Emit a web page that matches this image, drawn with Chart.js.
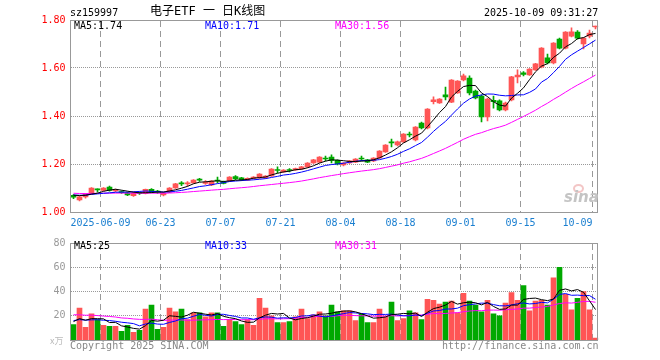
<!DOCTYPE html>
<html><head><meta charset="utf-8">
<script src="https://cdn.jsdelivr.net/npm/chart.js@4.4.1/dist/chart.umd.min.js"></script>
<style>
html,body{margin:0;padding:0;background:#fff;width:660px;height:360px;overflow:hidden;}
#wrap{position:relative;width:660px;height:360px;background:#fff;}
canvas{position:absolute;left:0;z-index:1;}
.t{position:absolute;font-family:"DejaVu Sans Mono",monospace;font-size:10px;line-height:12px;white-space:pre;z-index:2;}
.vdash{position:absolute;width:1px;z-index:0;background:repeating-linear-gradient(to bottom,#999999 0px,#999999 6px,rgba(255,255,255,0) 6px,rgba(255,255,255,0) 10px);}
</style></head><body>
<div id="wrap">
<canvas id="k" width="660" height="232" style="top:0px"></canvas>
<canvas id="v" width="660" height="128" style="top:232px"></canvas>
<div class="t" style="left:70px;top:7px;color:#000">sz159997</div>
<div class="t" style="left:150px;top:4px;font-size:12px;line-height:14px;font-family:'DejaVu Sans Mono','Noto Sans CJK SC',monospace;color:#000">电子ETF 一 日K线图</div>
<div class="t" style="left:484px;top:7px;color:#000">2025-10-09 09:31:27</div>
<div class="t" style="left:74px;top:20px;color:#000">MA5:1.74</div>
<div class="t" style="left:205px;top:20px;color:#0000ff">MA10:1.71</div>
<div class="t" style="left:335px;top:20px;color:#ff00ff">MA30:1.56</div>
<div class="t" style="left:74px;top:240px;color:#000">MA5:25</div>
<div class="t" style="left:205px;top:240px;color:#0000ff">MA10:33</div>
<div class="t" style="left:335px;top:240px;color:#ff00ff">MA30:31</div>
<div class="t" style="left:50px;top:335px;color:#bbb;font-family:'Noto Sans CJK SC',sans-serif;font-size:9px">x万</div>
<div class="t" style="left:70px;top:340px;color:#888">Copyright 2025 SINA.COM</div>
<div class="t" style="left:442px;top:340px;color:#888">http://finance.sina.com.cn</div>
<div style="position:absolute;z-index:2;left:573px;top:184px;width:11px;height:9px;border-radius:50%;border:2px solid #f3c6c6;box-sizing:border-box;"></div>
<div class="t" style="left:564px;top:189px;font-family:'DejaVu Sans',sans-serif;font-size:15px;line-height:16px;font-weight:bold;font-style:italic;color:#c4c4c4">sina</div>
</div>
<script>
// ---- data ----
const dates = ['05-30',
 '06-03','06-04','06-05','06-06','06-09','06-10','06-11','06-12','06-13',
 '06-16','06-17','06-18','06-19','06-20','06-23','06-24','06-25','06-26','06-27','06-30',
 '07-01','07-02','07-03','07-04','07-07','07-08','07-09','07-10','07-11',
 '07-14','07-15','07-16','07-17','07-18','07-21','07-22','07-23','07-24','07-25',
 '07-28','07-29','07-30','07-31','08-01',
 '08-04','08-05','08-06','08-07','08-08','08-11','08-12','08-13','08-14','08-15',
 '08-18','08-19','08-20','08-21','08-22','08-25','08-26','08-27','08-28','08-29',
 '09-01','09-02','09-03','09-04','09-05','09-08','09-09','09-10','09-11','09-12',
 '09-15','09-16','09-17','09-18','09-19','09-22','09-23','09-24','09-25','09-26',
 '09-29','09-30','10-09'];
const tickLabels = {'06-09':'2025-06-09','06-23':'06-23','07-07':'07-07','07-21':'07-21','08-04':'08-04','08-18':'08-18','09-01':'09-01','09-15':'09-15','10-09':'10-09'};
const priceLevels = [1.2, 1.4, 1.6];
const volumeLevels = [20, 40, 60];

const open = [1.069,1.050,1.063,1.075,1.094,1.090,1.104,1.088,1.085,1.080,
 1.068,1.079,1.077,1.094,1.085,1.071,1.083,1.100,1.121,1.117,
 1.121,1.135,1.119,1.113,1.131,1.127,1.129,1.148,1.142,1.133,
 1.140,1.142,1.142,1.150,1.177,1.167,1.177,1.175,1.179,1.188,
 1.204,1.208,1.225,1.229,1.215,1.196,1.204,1.208,1.225,1.217,
 1.213,1.225,1.250,1.292,1.279,1.292,1.325,1.300,1.371,1.350,
 1.460,1.454,1.488,1.458,1.496,1.550,1.558,1.504,1.483,1.396,
 1.465,1.463,1.425,1.467,1.563,1.580,1.571,1.592,1.604,1.642,
 1.621,1.721,1.683,1.733,1.750,1.700,1.733,1.771];
const high = [1.073,1.065,1.077,1.102,1.097,1.102,1.108,1.096,1.088,1.083,
 1.083,1.083,1.096,1.098,1.090,1.081,1.102,1.119,1.127,1.127,
 1.135,1.140,1.131,1.131,1.146,1.129,1.148,1.152,1.144,1.142,
 1.148,1.160,1.152,1.181,1.188,1.177,1.181,1.183,1.190,1.206,
 1.219,1.231,1.233,1.238,1.217,1.206,1.215,1.223,1.233,1.219,
 1.227,1.256,1.281,1.304,1.296,1.327,1.333,1.356,1.375,1.431,
 1.480,1.473,1.521,1.552,1.548,1.575,1.567,1.508,1.488,1.475,
 1.483,1.467,1.458,1.565,1.592,1.585,1.598,1.619,1.685,1.658,
 1.706,1.725,1.752,1.767,1.756,1.727,1.758,1.775];
const low = [1.056,1.046,1.058,1.073,1.083,1.088,1.087,1.085,1.077,1.068,
 1.065,1.073,1.075,1.081,1.077,1.067,1.081,1.098,1.110,1.108,
 1.119,1.127,1.115,1.110,1.121,1.117,1.127,1.135,1.131,1.131,
 1.138,1.140,1.140,1.148,1.163,1.165,1.167,1.173,1.177,1.185,
 1.202,1.206,1.213,1.204,1.196,1.192,1.202,1.206,1.213,1.206,
 1.210,1.223,1.248,1.271,1.275,1.290,1.313,1.296,1.346,1.346,
 1.450,1.452,1.467,1.456,1.494,1.546,1.488,1.471,1.375,1.379,
 1.433,1.421,1.421,1.463,1.538,1.567,1.569,1.590,1.600,1.617,
 1.617,1.679,1.679,1.729,1.720,1.679,1.725,1.763];
const close = [1.062,1.063,1.075,1.100,1.092,1.100,1.090,1.092,1.081,1.071,
 1.079,1.077,1.094,1.083,1.083,1.079,1.100,1.117,1.117,1.121,
 1.133,1.133,1.125,1.129,1.129,1.119,1.146,1.138,1.135,1.140,
 1.146,1.158,1.150,1.179,1.173,1.175,1.173,1.181,1.188,1.204,
 1.217,1.229,1.221,1.215,1.200,1.204,1.213,1.221,1.221,1.208,
 1.225,1.254,1.279,1.288,1.292,1.325,1.321,1.354,1.350,1.429,
 1.467,1.471,1.479,1.550,1.546,1.567,1.496,1.475,1.396,1.471,
 1.460,1.425,1.454,1.563,1.571,1.573,1.596,1.617,1.683,1.621,
 1.704,1.683,1.750,1.751,1.724,1.725,1.746,1.775];
const volume = [12.8,26.4,10.4,21.6,16.8,12.0,11.2,11.2,7.2,12.0,
 6.4,8.0,25.6,28.8,8.8,10.4,26.4,23.2,25.6,16.8,
 22.4,22.4,19.2,22.4,22.4,11.2,16.8,15.2,12.8,16.8,
 12.0,34.4,26.4,20.0,14.4,14.4,15.2,19.2,25.6,17.6,
 20.8,23.2,20.0,28.8,23.2,24.0,24.0,16.0,21.3,14.4,
 14.4,25.6,19.2,31.2,16.0,17.6,24.0,22.4,16.8,33.6,
 32.8,29.6,31.2,32.0,22.4,38.4,32.0,28.8,23.2,32.8,
 21.6,20.0,30.4,39.2,32.8,44.8,24.0,32.0,32.8,28.8,
 51.2,60.0,37.6,24.8,34.4,40.0,24.8,1.6];
// sessions before the window (estimated from where the MA lines start)
const closeBefore = [1.088,1.081,1.079,1.085,1.090,1.086,1.080,1.077,1.082,1.087,
 1.084,1.079,1.083,1.088,1.081,1.078,1.080,1.076,1.074,1.072,
 1.075,1.070,1.068,1.073,1.074,1.071,1.069,1.074,1.074];
const volumeBefore = [26,22,19,28,24,21,25,30,20,23,18,27,22,24,26,21,19,25,23,21,
 18,15,19,16,16,14,17,15,17];

const RED = '#ff5555', GREEN = '#00a800';
const MONO = '"DejaVu Sans Mono", monospace';

function movingAvg(series, before, n) {
  const all = before.concat(series);
  return series.map((_, i) => {
    const end = before.length + i;
    let s = 0;
    for (let k = end - n + 1; k <= end; k++) s += all[k];
    return s / n;
  });
}
const colors = close.map((c, i) => c >= open[i] ? RED : GREEN);

// grid edge (left side of a day's slot)
function slotEdge(chart, i) {
  const a = chart.chartArea, xs = chart.scales.x;
  const slot = a.width / dates.length;
  return Math.round(xs.getPixelForValue(i) - slot / 2 - 0.5);
}

// dotted horizontal grid + dashed vertical grid, placed through the chart's scales
const gridLines = {
  id: 'gridLines',
  beforeDatasetsDraw(chart, args, opts) {
    const ctx = chart.ctx, a = chart.chartArea, ys = chart.scales.y;
    ctx.save();
    const top = Math.ceil(a.top) + 1, bottom = Math.floor(a.bottom);
    ctx.fillStyle = '#999999';
    ctx.strokeStyle = '#999999';
    ctx.lineWidth = 1;
    dates.forEach((d, i) => {
      if (!tickLabels[d]) return;
      const px = slotEdge(chart, i);
      ctx.beginPath();
      for (let yy = top; yy < bottom; yy += 10) {
        ctx.moveTo(px + 0.5, yy);
        ctx.lineTo(px + 0.5, Math.min(yy + 6, bottom));
      }
      ctx.stroke();
    });
    const left = Math.floor(a.left) + 1, right = Math.floor(a.right) - 1;
    (opts.levels || []).forEach(v => {
      const py = Math.round(ys.getPixelForValue(v) - 0.5);
      for (let xx = left; xx < right; xx += 2) ctx.fillRect(xx, py, 1, 1);
    });
    ctx.restore();
  }
};

const frame = {
  id: 'frame',
  afterDraw(chart) {
    const {ctx, chartArea: a} = chart;
    ctx.save();
    ctx.strokeStyle = '#999';
    ctx.lineWidth = 1;
    const l = Math.floor(a.left) + 0.5, r = Math.floor(a.right) - 0.5;
    const t = Math.floor(a.top) + 0.5, b = Math.floor(a.bottom) + 0.5;
    ctx.strokeRect(l, t, r - l, b - t);
    ctx.restore();
  }
};

function xScale(showLabels) {
  return {
    type: 'category',
    offset: true,
    afterFit: s => { s.height = 20; },
    grid: {display: false, drawTicks: false},
    border: {display: false},
    ticks: {
      display: showLabels, autoSkip: false, maxRotation: 0, minRotation: 0,
      align: 'inner', labelOffset: -3, padding: 5,
      color: '#1a7fd0', font: {family: MONO, size: 10},
      callback: (v, i) => tickLabels[dates[i]] || ''
    }
  };
}

function common(levels) {
  return {
    responsive: false, animation: false, events: [],
    plugins: {legend: {display: false}, tooltip: {enabled: false}, gridLines: {levels: levels}}
  };
}

const kChart = new Chart(document.getElementById('k'), {
  data: {
    labels: dates,
    datasets: [
      {type: 'line', data: movingAvg(close, closeBefore, 5), borderColor: '#000', borderWidth: 1, pointRadius: 0, tension: 0, order: 0},
      {type: 'line', data: movingAvg(close, closeBefore, 10), borderColor: '#0000ff', borderWidth: 1, pointRadius: 0, tension: 0, order: 0},
      {type: 'line', data: movingAvg(close, closeBefore, 30), borderColor: '#ff00ff', borderWidth: 1, pointRadius: 0, tension: 0, order: 0},
      {type: 'bar', data: open.map((o, i) => [o, close[i]]), backgroundColor: colors, barThickness: 5, minBarLength: 1, grouped: false, borderWidth: 0, order: 2},
      {type: 'bar', data: low.map((l, i) => [l, high[i]]), backgroundColor: colors, barThickness: 1, grouped: false, borderWidth: 0, order: 3}
    ]
  },
  options: Object.assign(common(priceLevels), {
    layout: {padding: {left: 0, right: 61.5, top: 20, bottom: 0}},
    scales: {
      x: xScale(true),
      y: {
        type: 'linear', min: 1.0, max: 1.8,
        afterFit: s => { s.width = 70.5; },
        grid: {display: false, drawTicks: false},
        border: {display: false},
        ticks: {stepSize: 0.2, padding: 5, color: '#ff0000', font: {family: MONO, size: 10},
          callback: v => Number(v).toFixed(2)}
      }
    }
  }),
  plugins: [gridLines, frame]
});

const vChart = new Chart(document.getElementById('v'), {
  data: {
    labels: dates,
    datasets: [
      {type: 'line', data: movingAvg(volume, volumeBefore, 5), borderColor: '#000', borderWidth: 1, pointRadius: 0, tension: 0, order: 0},
      {type: 'line', data: movingAvg(volume, volumeBefore, 10), borderColor: '#0000ff', borderWidth: 1, pointRadius: 0, tension: 0, order: 0},
      {type: 'line', data: movingAvg(volume, volumeBefore, 30), borderColor: '#ff00ff', borderWidth: 1, pointRadius: 0, tension: 0, order: 0},
      {type: 'bar', data: volume, backgroundColor: colors, barThickness: 5, grouped: false, borderWidth: 0, order: 2}
    ]
  },
  options: Object.assign(common(volumeLevels), {
    layout: {padding: {left: 0, right: 61.5, top: 8, bottom: 0}},
    scales: {
      x: xScale(false),
      y: {
        type: 'linear', min: 0, max: 80,
        afterFit: s => { s.width = 70.5; },
        grid: {display: false, drawTicks: false},
        border: {display: false},
        ticks: {stepSize: 20, padding: 5, color: '#999', font: {family: MONO, size: 10},
          callback: v => v === 0 ? '' : String(v)}
      }
    }
  }),
  plugins: [gridLines, frame]
});

// also lay the dashed day-lines under the (transparent) canvases, at the scale positions
const wrap = document.getElementById('wrap');
[[kChart, 0], [vChart, 232]].forEach(([chart, offsetTop]) => {
  const a = chart.chartArea;
  const top = Math.ceil(a.top) + 1, bottom = Math.floor(a.bottom);
  dates.forEach((d, i) => {
    if (!tickLabels[d]) return;
    const el = document.createElement('div');
    el.className = 'vdash';
    el.style.left = slotEdge(chart, i) + 'px';
    el.style.top = (offsetTop + top) + 'px';
    el.style.height = (bottom - top) + 'px';
    wrap.appendChild(el);
  });
});
</script>
</body></html>
